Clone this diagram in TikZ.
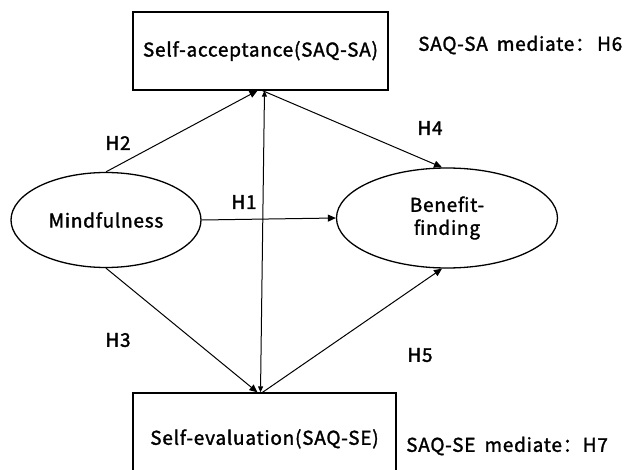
\documentclass[tikz,border=0pt]{standalone}
\usepackage{fontspec}
\setmainfont{Noto Sans CJK SC}
\newfontfamily\medfont{Noto Sans CJK SC}[FakeBold=1.6, LetterSpace=4]
\usetikzlibrary{arrows.meta,shapes.geometric}
\begin{document}
\begin{tikzpicture}[x=1pt,y=-1pt,
  every node/.style={font=\medfont\fontsize{19}{23}\selectfont, inner sep=0pt},
  boxnode/.style={draw, line width=1.3pt, rectangle},
  ellnode/.style={draw, line width=1.3pt, ellipse},
  conn/.style={line width=1pt, -{Triangle[length=8pt,width=7pt]}},
  lab/.style={anchor=center},
  sidelab/.style={anchor=west}]
\clip (0,0) rectangle (634,470);
\node[boxnode, minimum width=255pt, minimum height=78pt] (sa) at (260.5,51) {Self-acceptance(SAQ-SA)};
\node[boxnode, minimum width=263pt, minimum height=100pt, text depth=12pt] (se) at (264.5,443) {Self-evaluation(SAQ-SE)};
\node[ellnode, minimum width=190pt, minimum height=95pt] (mf) at (106,220) {Mindfulness};
\node[ellnode, minimum width=221pt, minimum height=100pt, align=center] (bf) at (447,218) {Benefit-\\finding};
\node[sidelab] (t6) at (418,45) {SAQ-SA\hspace{9pt}mediate：\hspace{3pt}H6};
\node[sidelab] (t7) at (406,446) {SAQ-SE\hspace{9pt}mediate：\hspace{1pt}H7};
\node[lab] (h1) at (244,202) {H1};
\node[lab] (h2) at (118,143) {H2};
\node[lab] (h3) at (118,340) {H3};
\node[lab] (h4) at (430,128) {H4};
\node[lab] (h5) at (420,355) {H5};
\draw[conn] (mf.east) -- (bf.west);
\draw[conn] (mf.north) -- ([xshift=-3pt]sa.south);
\draw[conn] (mf.south) -- ([xshift=-7pt]se.north);
\draw[conn] ([xshift=2pt]sa.south) -- ([xshift=-5pt]bf.north);
\draw[conn] ([xshift=-2pt]se.north) -- ([xshift=-5pt]bf.south);
\draw[line width=1pt, {Triangle[length=6pt,width=5pt]}-{Triangle[length=6pt,width=5pt]}] ([xshift=4pt]sa.south) -- ([xshift=-4pt]se.north);
\end{tikzpicture}
\end{document}
